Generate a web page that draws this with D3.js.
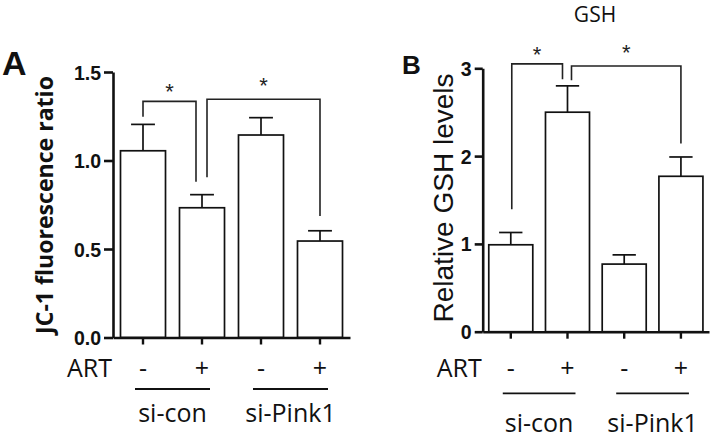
<!DOCTYPE html>
<html>
<head>
<meta charset="utf-8">
<script src="https://cdn.jsdelivr.net/npm/d3@7"></script>
<style>
  html, body { margin: 0; padding: 0; background: #fff; }
  svg { display: block; }
</style>
</head>
<body>
<svg id="chart" width="714" height="438"></svg>
<script>
// ---------------- DATA ----------------
const conditions = ["si-con ART-", "si-con ART+", "si-Pink1 ART-", "si-Pink1 ART+"];
const artLabels = ["-", "+", "-", "+"];
const groupLabels = ["si-con", "si-Pink1"];
const groupMembers = [[0, 1], [2, 3]];

// Panel A: JC-1 fluorescence ratio
const jc1Values = [1.055, 0.733, 1.144, 0.545];
const jc1Errors = [0.149, 0.074, 0.098, 0.058];
const jc1Ticks = [0, 0.5, 1.0, 1.5];
const jc1Brackets = [
  { from: 0, to: 1, level: 1.334, fromEnd: 1.247, toEnd: 0.880, star: 1.417 },
  { from: 1, to: 3, level: 1.346, fromEnd: 0.905, toEnd: 0.686, star: 1.449 }
];

// Panel B: Relative GSH levels
const gshValues = [0.99, 2.50, 0.77, 1.77];
const gshErrors = [0.14, 0.30, 0.105, 0.22];
const gshTicks = [0, 1, 2, 3];
const gshBrackets = [
  { from: 0, to: 1, level: 3.05, fromEnd: 1.394, toEnd: 2.875, star: 3.213 },
  { from: 1, to: 3, level: 3.026, fromEnd: 2.864, toEnd: 2.144, star: 3.231 }
];

// ---------------- DRAW ----------------
const svg = d3.select("#chart");
const sansBold = "'Liberation Sans', Arial, sans-serif";
const humanist = "'Open Sans', sans-serif";

function fitText(sel, size, target) {
  const len = sel.node().getComputedTextLength();
  if (len > 0) sel.attr("font-size", size * target / len);
}

function drawPanel(o) {
  const g = svg.append("g");
  const x = d3.scaleBand().domain(d3.range(o.values.length))
    .range([o.left, o.right]).paddingInner(o.padIn).paddingOuter(o.padOut);
  const y = d3.scaleLinear().domain(o.domain).range([o.bottom, o.top]);

  // bars
  g.selectAll("rect.bar").data(o.values).join("rect")
    .attr("x", (d, i) => x(i)).attr("width", x.bandwidth())
    .attr("y", d => y(d)).attr("height", d => y(0) - y(d))
    .attr("fill", "#fff").attr("stroke", "#111").attr("stroke-width", 1.7);

  // error bars
  const capW = x.bandwidth() * 0.53;
  const cx = i => x(i) + x.bandwidth() / 2;
  g.selectAll("line.err").data(o.values).join("line")
    .attr("x1", (d, i) => cx(i)).attr("x2", (d, i) => cx(i))
    .attr("y1", d => y(d)).attr("y2", (d, i) => y(d + o.errors[i]))
    .attr("stroke", "#111").attr("stroke-width", 1.7);
  g.selectAll("line.cap").data(o.values).join("line")
    .attr("x1", (d, i) => cx(i) - capW / 2).attr("x2", (d, i) => cx(i) + capW / 2)
    .attr("y1", (d, i) => y(d + o.errors[i])).attr("y2", (d, i) => y(d + o.errors[i]))
    .attr("stroke", "#111").attr("stroke-width", 1.7);

  // y axis
  const ya = g.append("g").attr("transform", `translate(${o.left},0)`)
    .call(d3.axisLeft(y).tickValues(o.ticks).tickFormat(d3.format(o.fmt))
      .tickSize(o.tickLen).tickPadding(3).tickSizeOuter(0));
  ya.select(".domain").attr("stroke", "#111").attr("stroke-width", 2.6);
  ya.selectAll(".tick line").attr("stroke", "#111").attr("stroke-width", 2.6);
  ya.selectAll(".tick text").attr("font-size", 19.5).attr("font-weight", "bold")
    .attr("font-family", sansBold).attr("fill", "#111").attr("dy", "0.36em");

  // x axis
  const xa = g.append("g").attr("transform", `translate(0,${o.bottom})`)
    .call(d3.axisBottom(x).tickFormat("").tickSize(7).tickSizeOuter(0));
  xa.select(".domain").attr("stroke", "#111").attr("stroke-width", 2.6);
  xa.selectAll(".tick line").attr("stroke", "#111").attr("stroke-width", 2.4);

  // brackets
  o.brackets.forEach((b, k) => {
    const xf = cx(b.from) + o.shifts[k][0];
    const xt = cx(b.to) + o.shifts[k][1];
    g.append("path")
      .attr("d", `M${xf},${y(b.fromEnd)}V${y(b.level)}H${xt}V${y(b.toEnd)}`)
      .attr("fill", "none").attr("stroke", "#222").attr("stroke-width", 1.6);
    g.append("text").attr("x", (xf + xt) / 2).attr("y", y(b.star) + 12)
      .attr("text-anchor", "middle").attr("font-family", sansBold)
      .attr("font-size", 22).attr("fill", "#222").text("*");
  });

  // ART row
  g.append("text").attr("x", o.left - 1).attr("y", o.artY).attr("text-anchor", "end")
    .attr("font-family", humanist).attr("font-size", 25).attr("fill", "#111").text("ART");
  g.selectAll("text.sign").data(artLabels).join("text")
    .attr("x", (d, i) => cx(i)).attr("y", o.artY).attr("text-anchor", "middle")
    .attr("font-family", humanist).attr("font-size", 25).attr("fill", "#111").text(d => d);

  // group lines and labels
  groupMembers.forEach((m, k) => {
    const a = cx(m[0]) - 8, bEnd = cx(m[m.length - 1]) + 8;
    g.append("line").attr("x1", a).attr("x2", bEnd).attr("y1", o.groupLineY).attr("y2", o.groupLineY)
      .attr("stroke", "#111").attr("stroke-width", 1.8);
    g.append("text").attr("x", (a + bEnd) / 2).attr("y", o.groupTextY).attr("text-anchor", "middle")
      .attr("font-family", humanist).attr("font-size", 25).attr("fill", "#111").text(groupLabels[k]);
  });

  // y title
  const tt = g.append("text").attr("transform", `translate(${o.titleX},${o.titleY}) rotate(-90)`)
    .attr("text-anchor", "middle").attr("font-family", o.titleFont)
    .attr("font-weight", o.titleWeight).attr("font-size", o.titleSize).attr("fill", "#111")
    .text(o.title);
  fitText(tt, o.titleSize, o.titleLen);

  // panel letter
  g.append("text").attr("x", o.letterX).attr("y", o.letterY).attr("font-family", sansBold)
    .attr("font-weight", "bold").attr("font-size", o.letterSize).attr("fill", "#111").text(o.letter);
  return g;
}

drawPanel({
  values: jc1Values, errors: jc1Errors, ticks: jc1Ticks, brackets: jc1Brackets, fmt: ".1f",
  domain: [0, 1.5], left: 113, right: 350, top: 72, bottom: 337.5,
  padIn: 0.237, padOut: 0.127, tickLen: 9,
  shifts: [[0, -6], [5, 0]],
  artY: 377, groupLineY: 389, groupTextY: 422,
  title: "JC-1 fluorescence ratio", titleFont: humanist, titleWeight: "bold", titleSize: 24, titleLen: 258,
  titleX: 53, titleY: 205,
  letter: "A", letterX: 2, letterY: 75, letterSize: 34
});

drawPanel({
  values: gshValues, errors: gshErrors, ticks: gshTicks, brackets: gshBrackets, fmt: "d",
  domain: [0, 3], left: 482.7, right: 709, top: 68.3, bottom: 331.7,
  padIn: 0.224, padOut: 0.107, tickLen: 8,
  shifts: [[1, -5], [4, 0]],
  artY: 377, groupLineY: 393.3, groupTextY: 432,
  title: "Relative GSH levels", titleFont: sansBold, titleWeight: "normal", titleSize: 28, titleLen: 249,
  titleX: 453, titleY: 198,
  letter: "B", letterX: 402, letterY: 74, letterSize: 26
});

svg.append("text").attr("x", 595).attr("y", 22).attr("text-anchor", "middle")
  .attr("font-family", humanist).attr("font-size", 21).attr("fill", "#111").text("GSH");
</script>
</body>
</html>
